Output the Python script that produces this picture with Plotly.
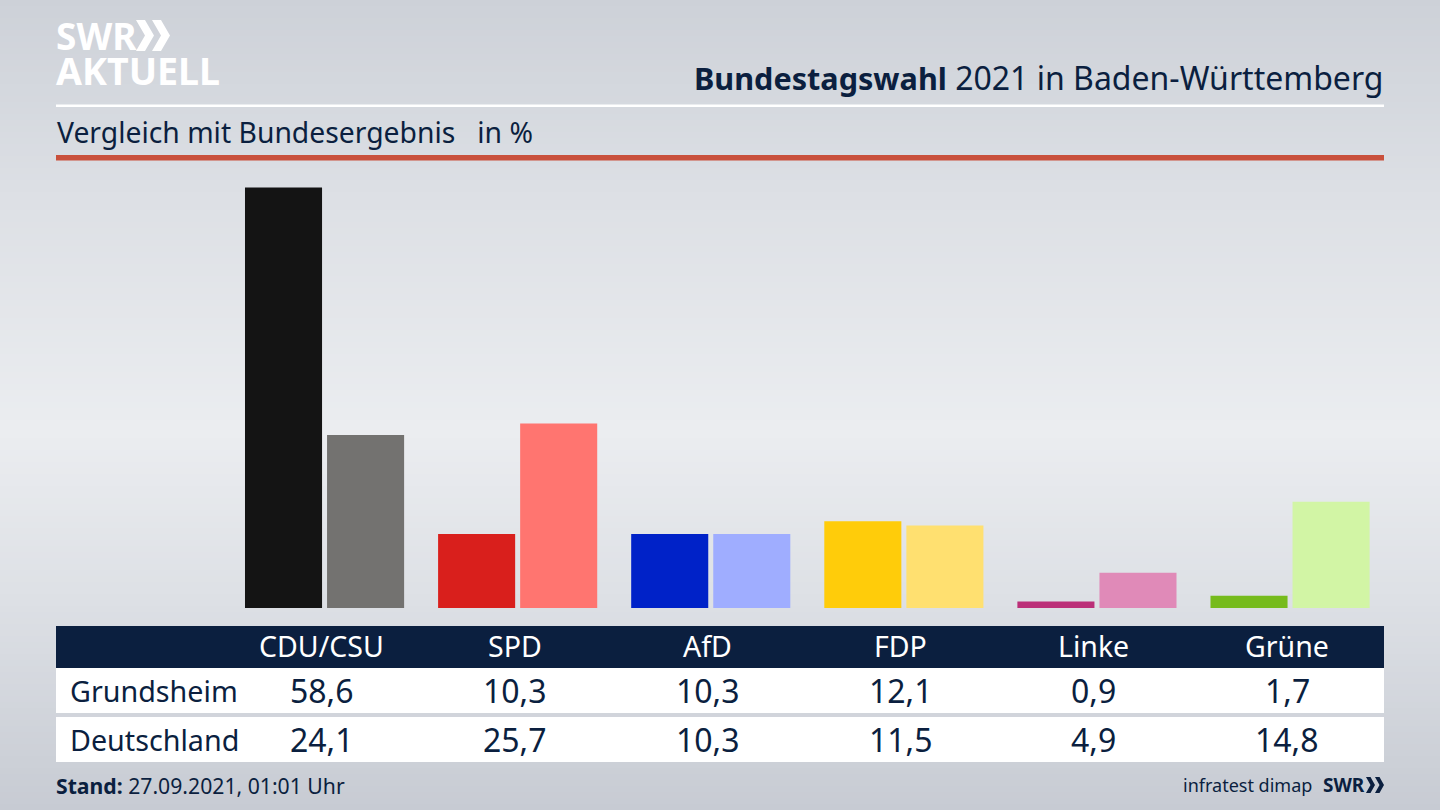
import plotly.graph_objects as go

W, H = 1440, 810
FONT = "Noto Sans"
NAVY = "#0b1f3f"

categories = ["CDU/CSU", "SPD", "AfD", "FDP", "Linke", "Grüne"]
grundsheim = [58.6, 10.3, 10.3, 12.1, 0.9, 1.7]
deutschland = [24.1, 25.7, 10.3, 11.5, 4.9, 14.8]
colors_local = ["#141414", "#d91f1c", "#0022c8", "#ffcc0a", "#bb2f78", "#76bb1c"]
colors_national = ["#737270", "#ff7570", "#9fadff", "#ffe070", "#e08ab8", "#d2f5a5"]
row_names = ["Grundsheim", "Deutschland"]
title_text = '<b><span style="font-size:30.6px">Bundestagswahl</span></b> 2021 in Baden-Württemberg'
subtitle_text = "Vergleich mit Bundesergebnis   in %"
logo_text = ('<b><span style="font-size:37px">SWR</span></b><br>'
             '<b><span style="font-size:37.6px">AKTUELL</span></b>')
footer_left = "<b>Stand:</b> 27.09.2021, 01:01 Uhr"
footer_right = "infratest dimap"


def px(x):
    return x / W


def py(y):
    return 1 - y / H


def rect(x0, y0, x1, y1, color, layer="below"):
    return dict(type="rect", xref="paper", yref="paper", x0=px(x0), x1=px(x1),
                y0=py(y1), y1=py(y0), fillcolor=color, line_width=0, layer=layer)


def chevron(x, y, w, h, color):
    pts = [(x, y), (x + w * 0.5, y), (x + w, y + h / 2), (x + w * 0.5, y + h),
           (x, y + h), (x + w * 0.5, y + h / 2)]
    d = "M " + " L ".join(f"{px(a):.5f},{py(b):.5f}" for a, b in pts) + " Z"
    return dict(type="path", xref="paper", yref="paper", path=d, fillcolor=color,
                line_width=0, layer="above")


def text(x, y, s, size, color=NAVY, anchor="center", **kw):
    return dict(xref="paper", yref="paper", x=px(x), y=py(y), text=s, showarrow=False,
                xanchor=anchor, yanchor="middle", align=anchor,
                font=dict(family=FONT, size=size, color=color), **kw)


# background: vertical light band
stops = [(0, (205, 209, 216)), (200, (221, 224, 229)), (430, (235, 237, 240)),
         (600, (221, 224, 229)), (810, (199, 203, 211))]


def bg(y):
    for (a, ca), (b, cb) in zip(stops, stops[1:]):
        if a <= y <= b:
            t = (y - a) / (b - a)
            return "rgb(%d,%d,%d)" % tuple(round(p + (q - p) * t) for p, q in zip(ca, cb))
    return "rgb(199,203,211)"


shapes = [rect(0, y, W, y + 6, bg(y + 3)) for y in range(0, H, 6)]
shapes += [
    rect(56, 104.5, 1384, 107, "#ffffff"),
    rect(56, 155, 1384, 160.5, "#c9503c"),
    rect(56, 626, 1384, 668, NAVY),
    rect(56, 668, 1384, 713, "#ffffff"),
    rect(56, 717, 1384, 762, "#ffffff"),
    chevron(136, 20, 18, 31, "#ffffff"),
    chevron(152, 20, 18, 31, "#ffffff"),
    chevron(1366, 777, 9, 16, NAVY),
    chevron(1375, 777, 9, 16, NAVY),
]

ann = [
    text(1385, 77, title_text, 32, anchor="right"),
    text(55, 132, subtitle_text, 28.3, anchor="left"),
    text(54, 53, logo_text, 27, "#ffffff", anchor="left"),
    text(54, 785, footer_left, 21.2, anchor="left"),
    text(1314, 785, footer_right, 18, anchor="right"),
    text(1367, 785, "<b>SWR</b>", 19, anchor="right"),
    text(68, 690, row_names[0], 28.7, anchor="left"),
    text(68, 739, row_names[1], 28.7, anchor="left"),
]
for i, c in enumerate(categories):
    cx = 321.5 + 193.1 * i
    ann.append(text(cx, 646, c, 28.5, "#ffffff"))
    ann.append(text(cx, 690, f"{grundsheim[i]:.1f}".replace(".", ","), 32))
    ann.append(text(cx, 739, f"{deutschland[i]:.1f}".replace(".", ","), 32))

fig = go.Figure()
fig.add_bar(x=categories, y=grundsheim, marker=dict(color=colors_local, line_width=0),
            name=row_names[0], showlegend=False, hoverinfo="skip")
fig.add_bar(x=categories, y=deutschland, marker=dict(color=colors_national, line_width=0),
            name=row_names[1], showlegend=False, hoverinfo="skip")

fig.update_layout(
    width=W, height=H, margin=dict(l=0, r=0, t=0, b=0),
    paper_bgcolor="#dde0e5", plot_bgcolor="rgba(0,0,0,0)",
    barmode="group", bargap=0.150, bargroupgap=0.061,
    shapes=shapes, annotations=ann, showlegend=False,
    xaxis=dict(domain=[228 / W, 1386.6 / W], type="category", categoryorder="array",
               categoryarray=categories, showticklabels=False, showgrid=False,
               zeroline=False, showline=False, ticks=""),
    yaxis=dict(domain=[(H - 608) / H, (H - 165) / H], range=[0, 443 / 7.176],
               showticklabels=False, showgrid=False, zeroline=False, showline=False, ticks=""),
)
fig.write_html("out.html", config={"displayModeBar": False},
               post_script="document.body.style.margin='0';document.body.style.overflow='hidden';")
